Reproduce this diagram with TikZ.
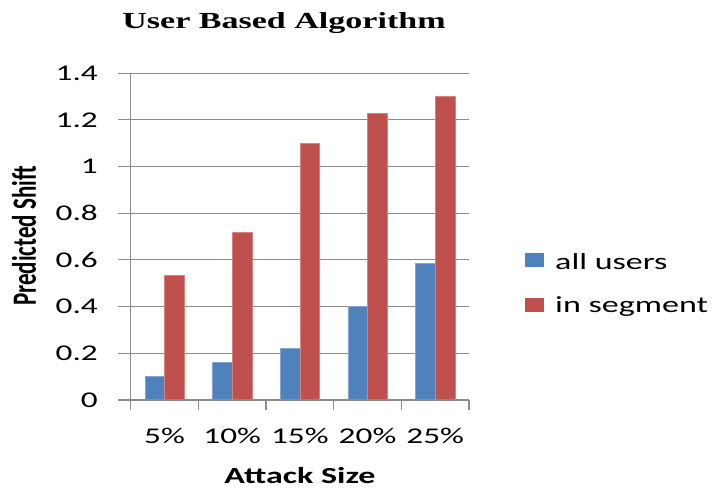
\documentclass[tikz,border=0pt]{standalone}
\usepackage{fontspec}
\setmainfont{Liberation Serif}
\setsansfont{Carlito}
\definecolor{barblue}{HTML}{4F81BD}
\definecolor{barred}{HTML}{C0504D}
\definecolor{gridgray}{HTML}{8C8C8C}
\newcommand\wide[1]{\scalebox{1.48}[1]{#1}}
\newcommand\tall[1]{\scalebox{1}[1.48]{#1}}
\begin{document}
\begin{tikzpicture}[x=1pt,y=-1pt,
  grid/.style={draw=gridgray,line width=1.1pt},
  ticklab/.style={font=\sffamily\fontsize{22.5}{24}\selectfont,inner sep=0pt},
  axtitle/.style={font=\sffamily\bfseries\fontsize{23}{25}\selectfont,inner sep=0pt},
  legtext/.style={font=\sffamily\fontsize{23}{25}\selectfont,inner sep=0pt,anchor=west},
  bluebar/.style={fill=barblue,draw=barblue!70!white,line width=0.4pt},
  redbar/.style={fill=barred,draw=barred!70!white,line width=0.4pt}]
\useasboundingbox (0,0) rectangle (714,491);
% gridlines
\foreach \i in {1,...,7}{
  \draw[grid] (118,{400-46.7*\i}) -- (469,{400-46.7*\i});
}
% bars: category width 67.66, origin 130.7
\foreach \k/\b/\r in {0/0.10/0.534, 1/0.163/0.72, 2/0.22/1.10, 3/0.40/1.23, 4/0.588/1.303}{
  \pgfmathsetmacro{\xs}{130.7+67.66*\k+14.2}
  \fill[bluebar] (\xs,400) rectangle ({\xs+19.6},{400-233.5*\b});
  \fill[redbar] ({\xs+19.6},400) rectangle ({\xs+39.2},{400-233.5*\r});
}
% axes
\draw[grid] (118,400) -- (469,400);
\draw[grid] (130.7,73.1) -- (130.7,410);
\foreach \k in {1,...,5}{
  \draw[grid] ({130.7+67.66*\k},400) -- ({130.7+67.66*\k},410);
}
% y tick labels
\foreach \v/\n in {0/0,1/0.2,2/0.4,3/0.6,4/0.8,5/1,6/1.2,7/1.4}{
  \node[ticklab,anchor=east] (y\v) at (98,{400-46.7*\v}) {\wide{\n}};
}
% x tick labels
\foreach \k/\n in {0/5\%,1/10\%,2/15\%,3/20\%,4/25\%}{
  \node[ticklab] (x\k) at ({130.7+67.66*\k+33.83},436) {\wide{\n}};
}
% titles
\node[font=\rmfamily\bfseries\fontsize{23}{25}\selectfont,inner sep=0pt] (title) at (284,23) {\wide{User Based Algorithm}};
\node[axtitle] (xt) at (300,476) {\wide{Attack Size}};
\node[axtitle,rotate=90] (yt) at (24,236) {\tall{Predicted Shift}};
% legend
\fill[barblue] (525,253) rectangle (544,267);
\node[legtext] (l1) at (555,262) {\wide{all users}};
\fill[barred] (525,298) rectangle (544,312);
\node[legtext] (l2) at (555,307) {\wide{in segment}};
\end{tikzpicture}
\end{document}
